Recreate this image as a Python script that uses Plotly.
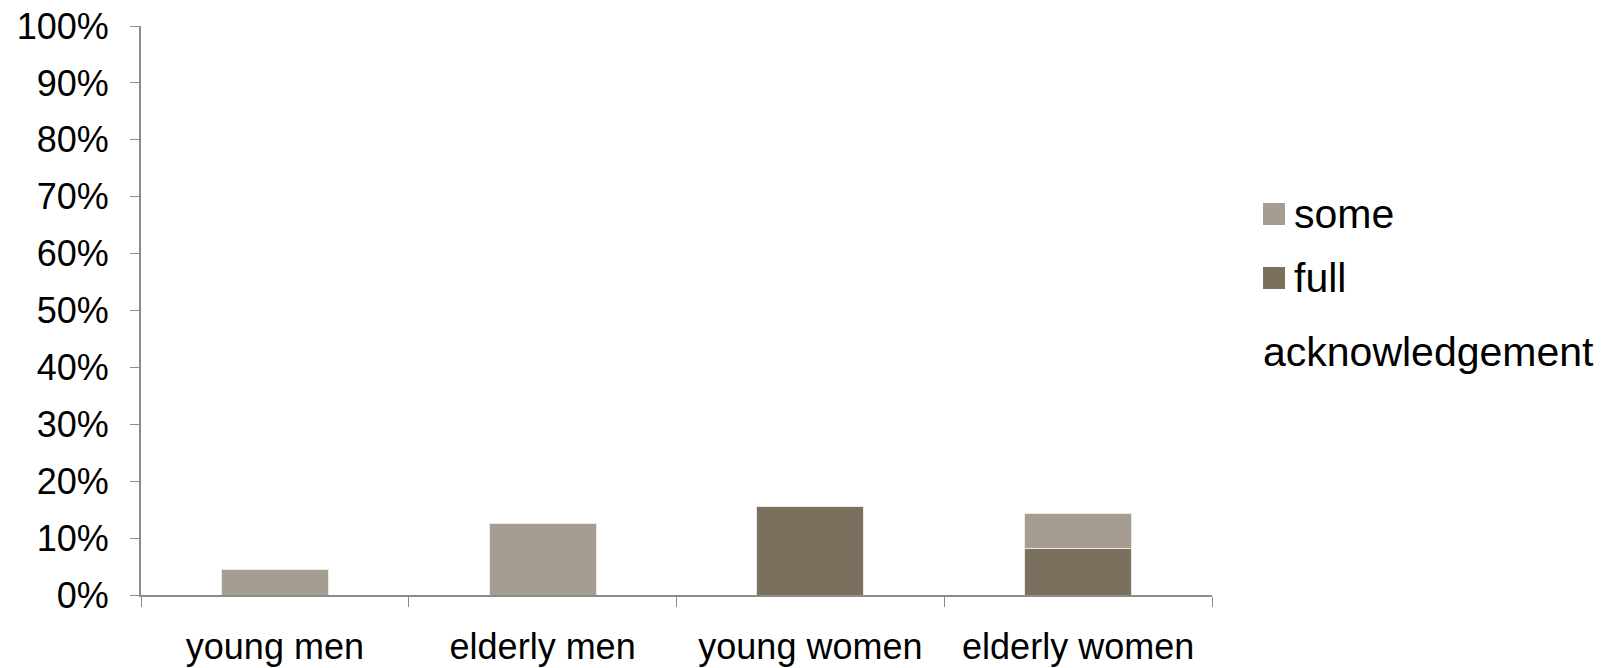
import plotly.graph_objects as go

# Share of respondents by group and level of acknowledgement
groups = ["young men", "elderly men", "young women", "elderly women"]
full_share = [0.0, 0.0, 0.155, 0.081]
some_share = [0.044, 0.125, 0.0, 0.063]

series_names = ["full", "some"]
legend_title = "acknowledgement"

COLOR_SOME = "#A59D92"
COLOR_FULL = "#7B705E"
AXIS_GRAY = "#8C8C8C"
FONT = "Liberation Sans, Arial, sans-serif"

W, H = 1620, 668
L, R, T, B = 141, 408, 26, 73
plot_w = W - L - R
plot_h = H - T - B


def px_x(x):
    return (x - L) / plot_w


def px_y(y):
    return (H - B - y) / plot_h


fig = go.Figure()
fig.add_trace(go.Bar(
    x=groups, y=full_share, name=series_names[0],
    marker=dict(color=COLOR_FULL, line=dict(color="#ECE9E4", width=1)),
    showlegend=False,
))
fig.add_trace(go.Bar(
    x=groups, y=some_share, name=series_names[1],
    marker=dict(color=COLOR_SOME, line=dict(color="#ECE9E4", width=1)),
    showlegend=False,
))

# Hand-drawn legend at the right: swatches and labels
legend_items = [(series_names[1], COLOR_SOME, 214), (series_names[0], COLOR_FULL, 278)]
shapes = []
annotations = []
for label, color, cy in legend_items:
    shapes.append(dict(
        type="rect", xref="paper", yref="paper",
        x0=px_x(1263), x1=px_x(1285), y0=px_y(cy + 11), y1=px_y(cy - 11),
        fillcolor=color, line=dict(width=0),
    ))
    annotations.append(dict(
        text=label, xref="paper", yref="paper", x=px_x(1292), y=px_y(cy),
        xanchor="left", yanchor="middle", showarrow=False,
        font=dict(family=FONT, size=41, color="black"),
    ))
annotations.append(dict(
    text=legend_title, xref="paper", yref="paper", x=px_x(1261), y=px_y(352),
    xanchor="left", yanchor="middle", showarrow=False,
    font=dict(family=FONT, size=41, color="black"),
))

fig.update_layout(
    width=W, height=H,
    barmode="stack", bargap=0.6,
    plot_bgcolor="white", paper_bgcolor="white",
    margin=dict(l=L, r=R, t=T, b=B, pad=0, autoexpand=False),
    font=dict(family=FONT, size=36, color="black"),
    shapes=shapes, annotations=annotations,
    showlegend=False,
)
fig.update_xaxes(
    automargin=False,
    showline=True, linecolor=AXIS_GRAY, linewidth=2,
    ticks="outside", tickson="boundaries", ticklen=10, tickcolor=AXIS_GRAY, tickwidth=1,
    showgrid=False, ticklabelstandoff=19,
    tickfont=dict(family=FONT, size=36, color="black"),
)
fig.update_yaxes(
    automargin=False,
    range=[0, 1], dtick=0.1, tickformat=".0%",
    showline=True, linecolor=AXIS_GRAY, linewidth=2,
    ticks="outside", ticklen=9, tickcolor=AXIS_GRAY, tickwidth=1,
    showgrid=False, zeroline=False, ticklabelstandoff=14,
    tickfont=dict(family=FONT, size=36, color="black"),
)

fig.write_html("out.html")
